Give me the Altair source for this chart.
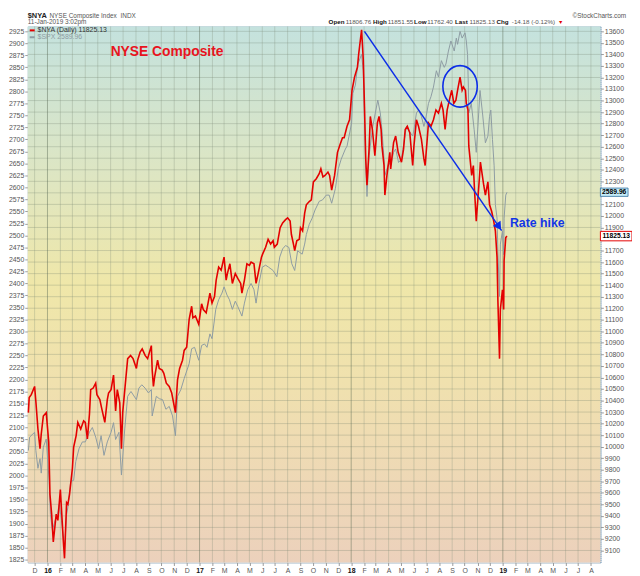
import altair as alt
import pandas as pd

# ---------------- data ----------------
nya_dates = [
    "2015-11-16","2015-11-18","2015-11-23","2015-12-01","2015-12-04","2015-12-09","2015-12-14","2015-12-17",
    "2015-12-22","2015-12-29","2016-01-04","2016-01-07","2016-01-11","2016-01-15","2016-01-22","2016-01-26",
    "2016-02-01","2016-02-03","2016-02-08","2016-02-11","2016-02-16","2016-02-19","2016-02-23","2016-03-01",
    "2016-03-04","2016-03-10","2016-03-14","2016-03-21","2016-03-28","2016-04-01","2016-04-06","2016-04-11",
    "2016-04-14","2016-04-20","2016-04-26","2016-04-29","2016-05-06","2016-05-11","2016-05-18","2016-05-24",
    "2016-05-27","2016-06-02","2016-06-08","2016-06-13","2016-06-17","2016-06-23","2016-06-27","2016-06-30",
    "2016-07-08","2016-07-12","2016-07-19","2016-07-25","2016-08-02","2016-08-05","2016-08-11","2016-08-16",
    "2016-08-23","2016-08-29","2016-09-07","2016-09-09","2016-09-12","2016-09-15","2016-09-22","2016-09-26",
    "2016-10-03","2016-10-07","2016-10-13","2016-10-20","2016-10-26","2016-11-04","2016-11-09","2016-11-14",
    "2016-11-21","2016-11-25","2016-12-01","2016-12-07","2016-12-13","2016-12-16","2016-12-22","2016-12-30",
    "2017-01-06","2017-01-10","2017-01-17","2017-01-26","2017-01-31","2017-02-06","2017-02-10","2017-02-16",
    "2017-02-22","2017-03-01","2017-03-06","2017-03-09","2017-03-15","2017-03-21","2017-03-28","2017-04-03",
    "2017-04-10","2017-04-13","2017-04-19","2017-04-25","2017-05-01","2017-05-05","2017-05-12","2017-05-17",
    "2017-05-22","2017-05-30","2017-06-02","2017-06-09","2017-06-15","2017-06-21","2017-06-27","2017-06-30",
    "2017-07-07","2017-07-14","2017-07-20","2017-07-27","2017-08-01","2017-08-07","2017-08-10","2017-08-15",
    "2017-08-18","2017-08-23","2017-08-29","2017-09-01","2017-09-06","2017-09-11","2017-09-15","2017-09-22",
    "2017-09-27","2017-10-02","2017-10-09","2017-10-16","2017-10-20","2017-10-25","2017-10-30","2017-11-06",
    "2017-11-10","2017-11-15","2017-11-22","2017-11-29","2017-12-04","2017-12-11","2017-12-15","2017-12-22",
    "2017-12-28","2018-01-03","2018-01-09","2018-01-16","2018-01-19","2018-01-26","2018-01-30","2018-02-02",
    "2018-02-05","2018-02-08","2018-02-13","2018-02-16","2018-02-21","2018-02-27","2018-03-05","2018-03-09",
    "2018-03-14","2018-03-16","2018-03-21","2018-03-23","2018-03-28","2018-04-04","2018-04-06","2018-04-13",
    "2018-04-18","2018-04-24","2018-05-02","2018-05-07","2018-05-11","2018-05-16","2018-05-22","2018-05-29",
    "2018-06-01","2018-06-07","2018-06-12","2018-06-19","2018-06-25","2018-06-28","2018-07-06","2018-07-12",
    "2018-07-18","2018-07-24","2018-07-30","2018-08-06","2018-08-10","2018-08-15","2018-08-20","2018-08-27",
    "2018-08-31","2018-09-05","2018-09-10","2018-09-14","2018-09-20","2018-09-25","2018-09-28","2018-10-03",
    "2018-10-05","2018-10-09","2018-10-11","2018-10-18","2018-10-22","2018-10-25","2018-10-29","2018-11-02",
    "2018-11-06","2018-11-08","2018-11-16","2018-11-20","2018-11-26","2018-11-30","2018-12-05","2018-12-10",
    "2018-12-14","2018-12-18","2018-12-20","2018-12-24","2018-12-26","2018-12-31","2019-01-03","2019-01-04",
    "2019-01-08","2019-01-11",
]
nya_vals = [
    10295,10425,10451,10522,10394,10153,9983,10110,
    10266,10295,10042,9585,9415,9174,9415,9361,
    9628,9500,9191,9032,9515,9500,9585,9813,
    9997,10096,10210,10153,10224,10210,10068,10281,
    10494,10508,10550,10451,10408,10323,10210,10408,
    10465,10494,10621,10309,10494,10380,9983,10295,
    10607,10763,10791,10763,10678,10749,10820,10848,
    10791,10763,10876,10664,10522,10607,10749,10678,
    10664,10636,10550,10522,10465,10295,10579,10678,
    10749,10834,10862,11104,11217,11117,11132,11061,
    11238,11189,11160,11330,11245,11302,11444,11557,
    11529,11643,11444,11500,11585,11415,11500,11458,
    11415,11330,11444,11585,11572,11600,11585,11415,
    11500,11643,11671,11728,11798,11756,11785,11728,
    11756,11898,11940,11968,11983,11955,11841,11756,
    11700,11785,11798,11898,11870,12025,12096,12125,
    12139,12295,12323,12366,12408,12338,12351,12380,
    12351,12224,12351,12551,12607,12678,12678,12777,
    12834,13089,13203,13288,13402,13614,13359,12947,
    12494,12266,12579,12862,12749,12522,12806,12862,
    12749,12607,12437,12181,12351,12551,12408,12636,
    12692,12551,12466,12579,12749,12777,12721,12437,
    12607,12834,12777,12664,12494,12437,12806,12777,
    12834,12919,12891,12976,12919,12749,12919,13032,
    13089,12976,13004,13089,13203,13089,13117,13089,
    12976,12919,12607,12351,12437,12210,11955,12153,
    12351,12466,12266,12181,12295,12096,12040,11955,
    11870,11643,11274,10763,11189,11359,11189,11614,
    11813,11825.13,
]

spx_dates = [
    "2015-11-16","2015-11-19","2015-12-01","2015-12-04","2015-12-09","2015-12-14","2015-12-17","2015-12-22",
    "2015-12-29","2016-01-05","2016-01-08","2016-01-13","2016-01-19","2016-01-25","2016-01-29","2016-02-04",
    "2016-02-11","2016-02-16","2016-02-19","2016-02-26","2016-03-04","2016-03-09","2016-03-17","2016-03-25",
    "2016-04-01","2016-04-11","2016-04-18","2016-04-26","2016-05-03","2016-05-09","2016-05-16","2016-05-24",
    "2016-06-02","2016-06-08","2016-06-13","2016-06-21","2016-06-27","2016-07-05","2016-07-12","2016-07-20",
    "2016-08-02","2016-08-08","2016-08-15","2016-08-23","2016-08-31","2016-09-07","2016-09-09","2016-09-19",
    "2016-09-26","2016-10-04","2016-10-12","2016-10-20","2016-10-28","2016-11-04","2016-11-09","2016-11-17",
    "2016-11-25","2016-12-07","2016-12-13","2016-12-20","2016-12-30","2017-01-06","2017-01-13","2017-01-19",
    "2017-01-26","2017-01-31","2017-02-09","2017-02-16","2017-02-24","2017-03-01","2017-03-08","2017-03-14",
    "2017-03-21","2017-03-28","2017-04-03","2017-04-13","2017-04-19","2017-04-27","2017-05-05","2017-05-12",
    "2017-05-17","2017-05-24","2017-06-01","2017-06-09","2017-06-16","2017-06-27","2017-07-06","2017-07-13",
    "2017-07-20","2017-07-27","2017-08-04","2017-08-11","2017-08-18","2017-08-25","2017-09-05","2017-09-11",
    "2017-09-15","2017-09-22","2017-09-29","2017-10-06","2017-10-16","2017-10-24","2017-11-02","2017-11-09",
    "2017-11-15","2017-11-24","2017-12-01","2017-12-08","2017-12-18","2017-12-22","2018-01-02","2018-01-05",
    "2018-01-11","2018-01-17","2018-01-26","2018-01-30","2018-02-02","2018-02-05","2018-02-08","2018-02-13",
    "2018-02-20","2018-02-22","2018-02-28","2018-03-06","2018-03-12","2018-03-16","2018-03-21","2018-03-23",
    "2018-04-02","2018-04-06","2018-04-13","2018-04-18","2018-04-25","2018-05-02","2018-05-09","2018-05-14",
    "2018-05-18","2018-05-29","2018-06-01","2018-06-07","2018-06-12","2018-06-19","2018-06-25","2018-06-29",
    "2018-07-06","2018-07-12","2018-07-18","2018-07-25","2018-07-30","2018-08-06","2018-08-13","2018-08-17",
    "2018-08-23","2018-08-29","2018-09-06","2018-09-11","2018-09-14","2018-09-20","2018-09-25","2018-10-02",
    "2018-10-05","2018-10-08","2018-10-10","2018-10-11","2018-10-17","2018-10-24","2018-10-29","2018-11-02",
    "2018-11-07","2018-11-13","2018-11-20","2018-11-26","2018-11-30","2018-12-03","2018-12-07","2018-12-11",
    "2018-12-14","2018-12-18","2018-12-20","2018-12-24","2018-12-26","2018-12-31","2019-01-03","2019-01-04",
    "2019-01-08","2019-01-11",
]
spx_vals = [
    2052,2080,2090,2052,2015,2035,2005,2059,
    2076,1988,1919,1886,1906,1919,1940,1906,
    1847,1919,1933,1988,1990,2029,2056,2070,
    2070,2090,2100,2080,2056,2083,2042,2070,
    2090,2110,2075,2090,2001,2097,2165,2175,
    2158,2182,2189,2182,2172,2179,2124,2165,
    2160,2158,2138,2144,2124,2083,2165,2179,
    2202,2233,2264,2267,2240,2271,2274,2267,
    2295,2285,2346,2366,2380,2393,2376,2366,
    2346,2363,2352,2332,2359,2387,2400,2387,
    2359,2400,2434,2438,2434,2427,2414,2455,
    2472,2479,2475,2441,2427,2468,2461,2482,
    2502,2523,2536,2553,2571,2574,2584,2584,
    2567,2598,2639,2659,2680,2686,2734,2796,
    2813,2857,2877,2843,2741,2645,2581,2666,
    2714,2727,2755,2782,2755,2720,2659,2625,
    2652,2645,2673,2680,2652,2659,2700,2727,
    2720,2707,2720,2755,2761,2748,2727,2741,
    2775,2789,2809,2843,2830,2864,2850,2857,
    2884,2905,2884,2911,2898,2925,2911,2922,
    2905,2877,2809,2755,2775,2720,2673,2727,
    2802,2755,2693,2707,2748,2761,2700,2645,
    2564,2536,2468,2373,2482,2509,2460,2536,
    2584,2589.96,
]

spx_ticks = list(range(1825, 2926, 25))
nya_grid = list(range(9100, 13601, 100))
nya_hidden = [12200, 11800]          # covered by the price tags
nya_ticks = [v for v in nya_grid if v not in nya_hidden]
month_starts = pd.date_range("2015-12-01", "2019-08-01", freq="MS")

# annotations (data coordinates on the NYA scale)
arrow_start = ("2018-02-01T20:00:00", 13600)
arrow_end = ("2018-12-29T00:00:00", 11872)
arrow_head = ("2018-12-22T12:00:00", 11907)
circle_at = ("2018-09-20", 13123)
title_at = ("2016-06-01", 13424)
hike_at = ("2019-01-18", 11940)

W, H = 580, 543
FONT = "Liberation Sans"
RED = "#e40000"
GRAY = "#8d9ba3"
BLUE = "#0c2de8"
SPX_DOMAIN = [1818.8, 2935.3]
NYA_DOMAIN = [8995.6, 13642.8]
AX = 7


def dt(s):
    t = pd.Timestamp(s)
    return alt.DateTime(year=t.year, month=t.month, date=t.day, hours=t.hour, utc=True)


nya = pd.DataFrame({"date": nya_dates, "value": nya_vals})
spx = pd.DataFrame({"date": spx_dates, "value": spx_vals})
one = pd.DataFrame({"k": [0]})

is_jan = "utcmonth(datum.value)==0"
x_enc = alt.X(
    "date:T",
    title=None,
    scale=alt.Scale(type="utc", domain=[dt("2015-11-14 12:00"), dt("2019-08-23 19:00")]),
    axis=alt.Axis(
        values=[dt(d) for d in month_starts],
        labelExpr=is_jan + " ? utcFormat(datum.value, '%y') : substring(utcFormat(datum.value, '%b'), 0, 1)",
        labelFontWeight={"condition": {"test": is_jan, "value": "bold"}, "value": "normal"},
        labelColor={"condition": {"test": is_jan, "value": "#111111"}, "value": "#555555"},
        labelFontSize=AX,
        labelFont=FONT,
        labelPadding=1,
        labelFlush=False,
        labelOverlap=False,
        tickSize=3,
        tickColor="#9a9a9a",
        domain=False,
        grid=False,
    ),
)

y_left = alt.Y(
    "value:Q",
    title=None,
    scale=alt.Scale(domain=SPX_DOMAIN, nice=False, zero=False),
    axis=alt.Axis(
        orient="left", values=spx_ticks, format="d", grid=False, domain=False,
        tickSize=3, tickColor="#9a9a9a", labelFontSize=AX, labelFont=FONT,
        labelColor="#555555", labelPadding=1, labelOverlap=False, labelFlush=False,
    ),
)
y_right = alt.Y(
    "value:Q",
    title=None,
    scale=alt.Scale(domain=NYA_DOMAIN, nice=False, zero=False),
    axis=alt.Axis(
        orient="right", values=nya_ticks, format="d", grid=False,
        domain=True, domainColor="#6a96bd", domainDash=[1, 1], domainWidth=1,
        tickSize=3, tickColor="#9a9a9a", labelFontSize=AX, labelFont=FONT,
        labelColor="#555555", labelPadding=1, labelOverlap=False, labelFlush=False,
    ),
)
y_bg = alt.Y("value:Q", title=None, scale=alt.Scale(domain=NYA_DOMAIN, nice=False, zero=False), axis=None)


def txt(text, x, y, size=6.3, weight="normal", color="#444444", align="left"):
    return alt.Chart(one).mark_text(
        text=text, fontSize=size, fontWeight=weight, color=color, align=align,
        baseline="middle", font=FONT,
    ).encode(x=alt.value(x), y=alt.value(y))


# ---------------- background: gradient + grid ----------------
gradient = alt.LinearGradient(
    gradient="linear",
    stops=[
        alt.GradientStop(color="#c4e2de", offset=0),
        alt.GradientStop(color="#dfe6c1", offset=0.29),
        alt.GradientStop(color="#efe7a9", offset=0.48),
        alt.GradientStop(color="#f0e1ae", offset=0.66),
        alt.GradientStop(color="#eed8b6", offset=0.85),
        alt.GradientStop(color="#ecd1bc", offset=1),
    ],
    x1=0, x2=0, y1=0, y2=1,
)
bg_rect = alt.Chart(one).mark_rect(fill=gradient, strokeWidth=0).encode(
    x=alt.value(0), x2=alt.value(W), y=alt.value(0), y2=alt.value(H)
)
hgrid_df = pd.DataFrame({"value": nya_grid})
hgrid = alt.Chart(hgrid_df).mark_rule(color="#6f7f6c", opacity=0.28, strokeWidth=1).encode(
    y=y_bg, x=alt.value(0), x2=alt.value(W)
)
months_df = pd.DataFrame({"date": [d.strftime("%Y-%m-%d") for d in month_starts if d.month != 1]})
years_df = pd.DataFrame({"date": [d.strftime("%Y-%m-%d") for d in month_starts if d.month == 1]})
vgrid = alt.Chart(months_df).mark_rule(color="#7d8a76", opacity=0.3, strokeWidth=1).encode(
    x=x_enc, y=alt.value(0), y2=alt.value(H)
)
ygrid = alt.Chart(years_df).mark_rule(color="#56664f", opacity=0.45, strokeWidth=1).encode(
    x=x_enc, y=alt.value(0), y2=alt.value(H)
)
bg_layer = alt.layer(bg_rect, hgrid, vgrid, ygrid)

# ---------------- SPX (left scale) ----------------
spx_line = alt.Chart(spx).mark_line(color=GRAY, strokeWidth=1, interpolate="linear").encode(x=x_enc, y=y_left)
spx_tag_df = pd.DataFrame({"value": [spx_vals[-1]], "label": ["%.2f" % spx_vals[-1]]})
spx_tag_box = alt.Chart(spx_tag_df).mark_point(
    shape="M-1,-0.3H1V0.3H-1Z", size=784, filled=True, fill="#c4ebf7", stroke="#2f6f9f",
    strokeWidth=0.8, opacity=1,
).encode(x=alt.value(594), y=y_left)
spx_tag_txt = alt.Chart(spx_tag_df).mark_text(
    fontSize=6.8, fontWeight="bold", color="#000000", font=FONT, baseline="middle", align="center",
).encode(x=alt.value(594), y=y_left, text="label:N")

L1, L2 = -11, -4
header = [
    txt("$NYA", 0, L1, size=7.5, weight="bold", color="#222222"),
    txt("NYSE Composite Index", 22, L1, size=6.5, color="#555555"),
    txt("INDX", 94, L1, size=6.5, color="#555555"),
    txt("\u00a9StockCharts.com", 606, L1, size=6.5, color="#555555", align="right"),
    txt("11-Jan-2019 3:02pm", 0, L2, size=6.5, color="#555555"),
    txt("Open", 304.7, L2, weight="bold", color="#111111"),
    txt("11806.76", 322, L2, color="#555555"),
    txt("High", 349.7, L2, weight="bold", color="#111111"),
    txt("11851.55", 364.7, L2, color="#555555"),
    txt("Low", 391.3, L2, weight="bold", color="#111111"),
    txt("11762.40", 404.7, L2, color="#555555"),
    txt("Last", 432.7, L2, weight="bold", color="#111111"),
    txt("11825.13", 447.3, L2, color="#555555"),
    txt("Chg", 474.7, L2, weight="bold", color="#111111"),
    txt("-14.18 (-0.12%)", 490.3, L2, color="#555555"),
    txt("\u25bc", 537, L2, size=5.5, color=RED),
]
legend = [
    alt.Chart(one).mark_rule(color=RED, strokeWidth=2).encode(x=alt.value(2), x2=alt.value(7), y=alt.value(4)),
    txt("$NYA (Daily) 11825.13", 10, 4, size=7, color="#333333"),
    alt.Chart(one).mark_rule(color=GRAY, strokeWidth=2).encode(x=alt.value(2), x2=alt.value(7), y=alt.value(11)),
    txt("$SPX 2589.96", 10, 11, size=7, color=GRAY),
]

left_layer = alt.layer(spx_line, spx_tag_box, spx_tag_txt, *header, *legend)

# ---------------- NYA (right scale) ----------------
nya_line = alt.Chart(nya).mark_line(color=RED, strokeWidth=1.6, interpolate="linear").encode(x=x_enc, y=y_right)

arrow_df = pd.DataFrame({
    "date": [arrow_start[0]], "value": [arrow_start[1]],
    "date2": [arrow_end[0]], "value2": [arrow_end[1]],
})
arrow = alt.Chart(arrow_df).mark_rule(color=BLUE, strokeWidth=1.5).encode(
    x=x_enc, x2="date2:T", y=y_right, y2="value2:Q"
)
head_df = pd.DataFrame({"date": [arrow_head[0]], "value": [arrow_head[1]]})
head = alt.Chart(head_df).mark_point(
    shape="triangle-up", filled=True, color=BLUE, size=90, angle=146, opacity=1
).encode(x=x_enc, y=y_right)

circ_df = pd.DataFrame({"date": [circle_at[0]], "value": [circle_at[1]]})
circ = alt.Chart(circ_df).mark_point(
    shape="M-0.83,0A0.83,1,0,1,0,0.83,0A0.83,1,0,1,0,-0.83,0Z",
    filled=False, stroke=BLUE, strokeWidth=1.6, size=1764, opacity=1,
).encode(x=x_enc, y=y_right)

title_df = pd.DataFrame({"date": [title_at[0]], "value": [title_at[1]], "label": ["NYSE Composite"]})
title = alt.Chart(title_df).mark_text(
    fontSize=14, fontWeight="bold", color="#e8141e", font=FONT, align="left", baseline="middle"
).encode(x=x_enc, y=y_right, text="label:N")

hike_df = pd.DataFrame({"date": [hike_at[0]], "value": [hike_at[1]], "label": ["Rate hike"]})
hike = alt.Chart(hike_df).mark_text(
    fontSize=12.5, fontWeight="bold", color="#1236e6", font=FONT, align="left", baseline="middle"
).encode(x=x_enc, y=y_right, text="label:N")

nya_tag_df = pd.DataFrame({"value": [nya_vals[-1]], "label": ["%.2f" % nya_vals[-1]]})
nya_tag_box = alt.Chart(nya_tag_df).mark_point(
    shape="M-1,-0.3H1V0.3H-1Z", size=1024, filled=True, fill="#ffffff", stroke=RED,
    strokeWidth=1, opacity=1,
).encode(x=alt.value(596), y=y_right)
nya_tag_txt = alt.Chart(nya_tag_df).mark_text(
    fontSize=6.8, fontWeight="bold", color="#000000", font=FONT, baseline="middle", align="center",
).encode(x=alt.value(596), y=y_right, text="label:N")

right_layer = alt.layer(nya_line, arrow, head, circ, title, hike, nya_tag_box, nya_tag_txt)

chart = (
    alt.layer(bg_layer, left_layer, right_layer)
    .resolve_scale(y="independent")
    .properties(
        width=W,
        height=H,
        autosize=alt.AutoSizeParams(type="none"),
        padding={"left": 20, "top": 15, "right": 32, "bottom": 10},
        background="#ffffff",
    )
    .configure_view(stroke="#a3b9c9", strokeWidth=1)
    .configure_text(font=FONT)
)

chart.save("out.html", embed_options={"renderer": "svg", "actions": False})
